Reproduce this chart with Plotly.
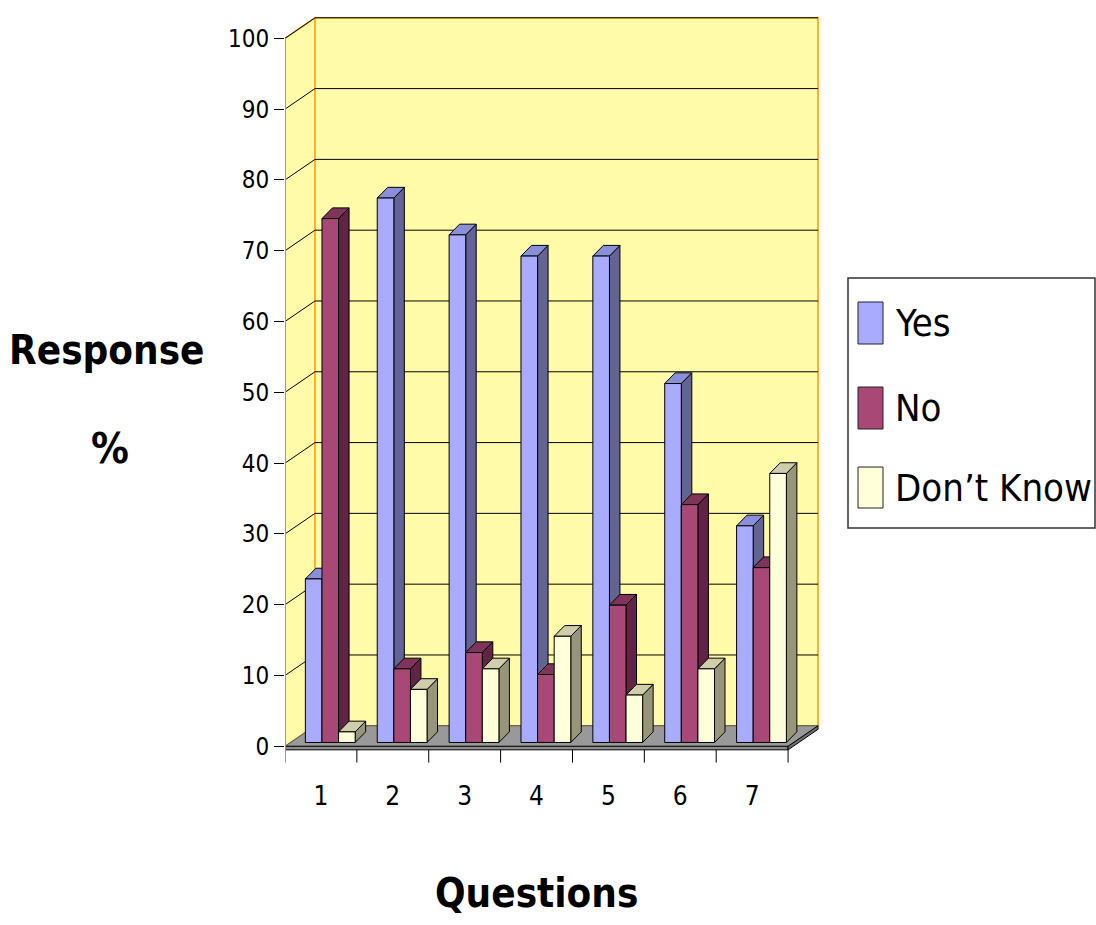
import plotly.graph_objects as go

# ---------------- data ----------------
questions = [1, 2, 3, 4, 5, 6, 7]
question_labels = ["1", "2", "3", "4", "5", "6", "7"]
series_names = ["Yes", "No", "Don’t Know"]
yes = [23.1, 76.9, 71.7, 68.7, 68.7, 50.7, 30.6]
no = [74.0, 10.4, 12.7, 9.6, 19.4, 33.6, 24.7]
dont_know = [1.5, 7.5, 10.4, 15.0, 6.7, 10.4, 38.0]
y_tick_values = [0, 10, 20, 30, 40, 50, 60, 70, 80, 90, 100]

# ---------------- style ----------------
FRONT = ["#A9ABFE", "#A84876", "#FFFFD9"]
SIDE = ["#616494", "#612444", "#979679"]
TOP = ["#8A8FD9", "#7F3559", "#CFCDAA"]
WALL = "#FFFBA8"
ORANGE = "#FF9900"
FLOOR = "#999999"
NARROW = "Liberation Sans Narrow, Arial Narrow, DejaVu Sans Condensed, sans-serif"

W, H = 1096, 925
ML, MR, MT, MB = 285, 272, 10, 161
XR = [0.5, 8.0]
YR = [-2.5, 104]
PW = W - ML - MR
PH = H - MT - MB

DX, DY = 0.4175, 2.9          # full depth of the 3-D box
BASE = 0.54                    # bars stand slightly behind the front edge
BW = 0.231                     # bar width
GSHIFT = 0.13                  # group offset
BDX, BDY = 0.146, 1.51         # bar depth

def paper_x(px):
    return (px - ML) / PW

def paper_y(py):
    return (H - MB - py) / PH

series = [yes, no, dont_know]
fig = go.Figure()

# side and top faces (drawn first, below the front faces)
for s, vals in enumerate(series):
    sx, sy, tx, ty = [], [], [], []
    for q, v in zip(questions, vals):
        c = q + GSHIFT + (s - 1) * BW
        x0, x1 = c - BW / 2, c + BW / 2
        t = BASE + v
        sx += [x1, x1, x1 + BDX, x1 + BDX, x1, None]
        sy += [BASE, t, t + BDY, BASE + BDY, BASE, None]
        tx += [x0, x1, x1 + BDX, x0 + BDX, x0, None]
        ty += [t, t, t + BDY, t + BDY, t, None]
    fig.add_trace(go.Scatter(x=sx, y=sy, mode="lines", fill="toself",
                             fillcolor=SIDE[s], line=dict(color="black", width=1),
                             hoverinfo="skip", showlegend=False, xaxis="x", yaxis="y"))
    fig.add_trace(go.Scatter(x=tx, y=ty, mode="lines", fill="toself",
                             fillcolor=TOP[s], line=dict(color="black", width=1),
                             hoverinfo="skip", showlegend=False, xaxis="x", yaxis="y"))

# front faces as real bars on an overlaid axis pair (drawn on top)
for s, vals in enumerate(series):
    fig.add_trace(go.Bar(
        x=[q + GSHIFT + (s - 1) * BW for q in questions], y=vals,
        base=[BASE] * len(vals), width=BW, name=series_names[s],
        marker=dict(color=FRONT[s], line=dict(color="black", width=1)),
        showlegend=False, xaxis="x2", yaxis="y2"))

shapes = []
# left wall
shapes.append(dict(type="path", xref="x", yref="y", layer="below",
                   path=f"M0.5,0 L0.5,100 L{0.5+DX},{100+DY} L{0.5+DX},{DY} Z",
                   fillcolor=WALL, line=dict(width=0)))
# back wall
shapes.append(dict(type="rect", xref="x", yref="y", layer="below",
                   x0=0.5 + DX, x1=7.5 + DX, y0=DY, y1=100 + DY,
                   fillcolor=WALL, line=dict(color=ORANGE, width=1.5)))
# left wall orange edges
shapes.append(dict(type="path", xref="x", yref="y", layer="below",
                   path=f"M0.5,100 L{0.5+DX},{100+DY}", line=dict(color=ORANGE, width=1.5)))
shapes.append(dict(type="path", xref="x", yref="y", layer="below",
                   path=f"M0.5,0 L{0.5+DX},{DY}", line=dict(color=ORANGE, width=1.5)))
# gridlines
for v in y_tick_values[1:]:
    shapes.append(dict(type="path", xref="x", yref="y", layer="below",
                       path=f"M0.5,{v} L{0.5+DX},{v+DY} L{7.5+DX},{v+DY}",
                       line=dict(color="black", width=1)))
# floor top
shapes.append(dict(type="path", xref="x", yref="y", layer="below",
                   path=f"M0.5,0 L7.5,0 L{7.5+DX},{DY} L{0.5+DX},{DY} Z",
                   fillcolor=FLOOR, line=dict(color="#555555", width=1)))
# floor front and side thickness
shapes.append(dict(type="rect", xref="x", yref="y", layer="below",
                   x0=0.5, x1=7.5, y0=-0.5, y1=0,
                   fillcolor="#8C8C8C", line=dict(color="black", width=1)))
shapes.append(dict(type="path", xref="x", yref="y", layer="below",
                   path=f"M7.5,-0.5 L7.5,0 L{7.5+DX},{DY} L{7.5+DX},{DY-0.5} Z",
                   fillcolor="#6E6E6E", line=dict(color="black", width=1)))
# category separator ticks
for k in range(1, 8):
    shapes.append(dict(type="line", xref="x", yref="y", layer="above",
                       x0=0.5 + k, x1=0.5 + k, y0=-0.5, y1=-2.3,
                       line=dict(color="black", width=1)))
# value axis line (gray)
shapes.append(dict(type="line", xref="x", yref="y", layer="above",
                   x0=0.5, x1=0.5, y0=-2.3, y1=100,
                   line=dict(color="#9A9A9A", width=2)))

# legend (box, swatches)
shapes.append(dict(type="rect", xref="paper", yref="paper",
                   x0=paper_x(848), x1=paper_x(1095), y0=paper_y(528), y1=paper_y(278),
                   fillcolor="white", line=dict(color="#333333", width=1.5)))
legend_rows = [(302, 344, 323), (387, 429, 408), (467, 508, 488)]
annotations = []
for s, (ya, yb, yc) in enumerate(legend_rows):
    shapes.append(dict(type="rect", xref="paper", yref="paper",
                       x0=paper_x(858), x1=paper_x(883), y0=paper_y(yb), y1=paper_y(ya),
                       fillcolor=FRONT[s], line=dict(color="#222222", width=1)))
    annotations.append(dict(xref="paper", yref="paper", x=paper_x(893), y=paper_y(yc),
                            text=series_names[s], showarrow=False, xanchor="left",
                            yanchor="middle", font=dict(family=NARROW, size=38, color="black")))

# titles
annotations.append(dict(xref="paper", yref="paper", x=paper_x(107), y=paper_y(350),
                        text="<b>Response</b>", showarrow=False, xanchor="center", yanchor="middle",
                        font=dict(family=NARROW, size=40, color="black")))
annotations.append(dict(xref="paper", yref="paper", x=paper_x(110), y=paper_y(448),
                        text="<b>%</b>", showarrow=False, xanchor="center", yanchor="middle",
                        font=dict(family=NARROW, size=42, color="black")))
annotations.append(dict(xref="x", yref="paper", x=4.0, y=paper_y(893),
                        text="<b>Questions</b>", showarrow=False, xanchor="center", yanchor="middle",
                        font=dict(family=NARROW, size=40, color="black")))

fig.update_layout(
    width=W, height=H,
    margin=dict(l=ML, r=MR, t=MT, b=MB),
    paper_bgcolor="white", plot_bgcolor="white",
    barmode="overlay", showlegend=False,
    shapes=shapes, annotations=annotations,
    xaxis=dict(range=XR, tickmode="array", tickvals=questions, ticktext=question_labels,
               showgrid=False, zeroline=False, showline=False, ticks="",
               ticklabelstandoff=14,
               tickfont=dict(family=NARROW, size=26, color="black"), fixedrange=True),
    yaxis=dict(range=YR, tickmode="array", tickvals=y_tick_values,
               showgrid=False, zeroline=False, showline=False,
               ticks="outside", ticklen=10, tickcolor="black", tickwidth=1,
               tickfont=dict(family=NARROW, size=24, color="black"), fixedrange=True),
    xaxis2=dict(range=XR, overlaying="x", anchor="y2", visible=False, fixedrange=True),
    yaxis2=dict(range=YR, overlaying="y", anchor="x2", visible=False, fixedrange=True),
)

fig.write_html("out.html")
